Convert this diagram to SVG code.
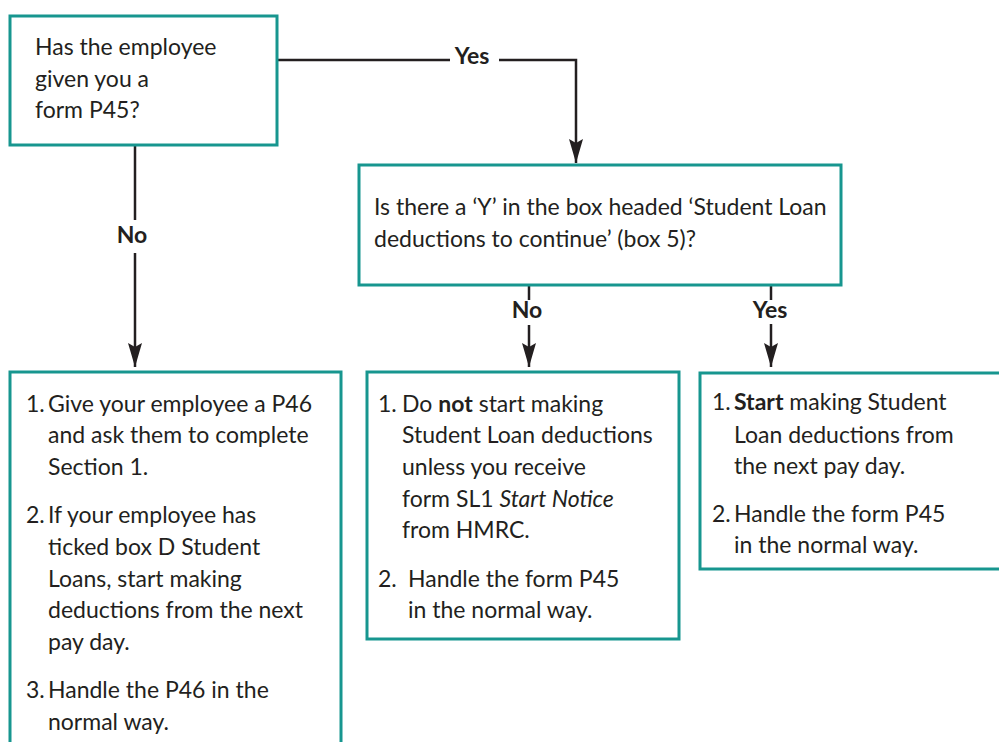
<svg xmlns="http://www.w3.org/2000/svg" width="999" height="742" viewBox="0 0 999 742">
  <style>
    .box { fill: #ffffff; stroke: #17968f; stroke-width: 3; }
    .txt { font-family: Lato, "Open Sans", "Liberation Sans", sans-serif; font-size: 23px; fill: #231f20; }
    .lbl { font-family: Lato, "Open Sans", "Liberation Sans", sans-serif; font-size: 23px; font-weight: bold; fill: #231f20; }
    .wire { fill: none; stroke: #231f20; stroke-width: 2.5; }
    .b { font-weight: bold; }
  </style>
  <defs>
    <!-- arrowhead drawn along +x so orient="auto" follows the line -->
    <marker id="arrow" viewBox="0 0 24 14" refX="24" refY="7" markerWidth="24" markerHeight="14" markerUnits="userSpaceOnUse" orient="auto">
      <path d="M0,0 L24,7 L0,14 L4,7 Z" fill="#231f20"/>
    </marker>
  </defs>

  <!-- connectors -->
  <g id="connectors">
    <path class="wire" d="M277,60 H450"/>
    <path class="wire" d="M499,60 H576 V163" marker-end="url(#arrow)"/>
    <text class="lbl" x="472" y="64" text-anchor="middle">Yes</text>

    <path class="wire" d="M135,145 V220"/>
    <path class="wire" d="M135,253 V367" marker-end="url(#arrow)"/>
    <text class="lbl" x="132" y="243" text-anchor="middle">No</text>

    <path class="wire" d="M529,285 V300"/>
    <path class="wire" d="M529,325 V367" marker-end="url(#arrow)"/>
    <text class="lbl" x="527" y="318" text-anchor="middle">No</text>

    <path class="wire" d="M771,285 V300"/>
    <path class="wire" d="M771,324 V367" marker-end="url(#arrow)"/>
    <text class="lbl" x="770" y="318" text-anchor="middle">Yes</text>
  </g>

  <!-- question: P45 -->
  <g id="q-p45">
    <rect class="box" x="10" y="16" width="267" height="129"/>
    <text class="txt" x="35" y="55">Has the employee</text>
    <text class="txt" x="35" y="87">given you a</text>
    <text class="txt" x="35" y="118">form P45?</text>
  </g>

  <!-- question: box 5 on the P45 -->
  <g id="q-box5">
    <rect class="box" x="359" y="165" width="482" height="120"/>
    <text class="txt" x="374" y="215">Is there a ‘Y’ in the box headed ‘Student Loan</text>
    <text class="txt" x="374" y="247">deductions to continue’ (box 5)?</text>
  </g>

  <!-- outcome: no P45 -->
  <g id="no-p45">
    <rect class="box" x="10" y="372" width="331" height="400"/>
    <text class="txt" x="26" y="412">1.</text>
    <text class="txt" x="48" y="412">Give your employee a P46</text>
    <text class="txt" x="48" y="443">and ask them to complete</text>
    <text class="txt" x="48" y="475">Section 1.</text>
    <text class="txt" x="26" y="523">2.</text>
    <text class="txt" x="48" y="523">If your employee has</text>
    <text class="txt" x="48" y="555">ticked box D Student</text>
    <text class="txt" x="48" y="587">Loans, start making</text>
    <text class="txt" x="48" y="618">deductions from the next</text>
    <text class="txt" x="48" y="650">pay day.</text>
    <text class="txt" x="26" y="698">3.</text>
    <text class="txt" x="48" y="698">Handle the P46 in the</text>
    <text class="txt" x="48" y="730">normal way.</text>
  </g>

  <!-- outcome: no Y in box 5 -->
  <g id="no-y">
    <rect class="box" x="367" y="372" width="312" height="267"/>
    <text class="txt" x="378" y="412">1.</text>
    <text class="txt" x="402" y="412">Do <tspan class="b">not</tspan> start making</text>
    <text class="txt" x="402" y="443">Student Loan deductions</text>
    <text class="txt" x="402" y="475">unless you receive</text>
    <text class="txt" x="402" y="507">form SL1 <tspan font-style="italic">Start Notice</tspan></text>
    <text class="txt" x="402" y="538">from HMRC.</text>
    <text class="txt" x="378" y="587">2.</text>
    <text class="txt" x="408" y="587">Handle the form P45</text>
    <text class="txt" x="408" y="618">in the normal way.</text>
  </g>

  <!-- outcome: Y in box 5 -->
  <g id="yes-y">
    <rect class="box" x="700" y="373" width="320" height="196"/>
    <text class="txt" x="712" y="410">1.</text>
    <text class="txt" x="734" y="410"><tspan class="b">Start</tspan> making Student</text>
    <text class="txt" x="734" y="443">Loan deductions from</text>
    <text class="txt" x="734" y="474">the next pay day.</text>
    <text class="txt" x="712" y="522">2.</text>
    <text class="txt" x="734" y="522">Handle the form P45</text>
    <text class="txt" x="734" y="553">in the normal way.</text>
  </g>
</svg>
